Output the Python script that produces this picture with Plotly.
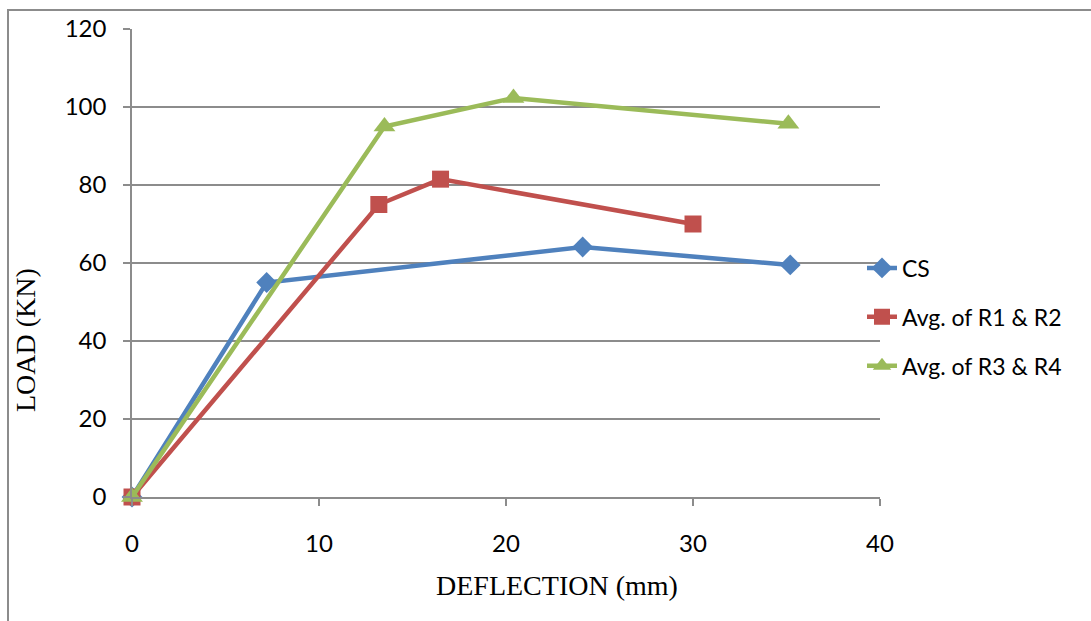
import plotly.graph_objects as go

# Load-deflection results
cs_deflection = [0, 7.2, 24.1, 35.2]
cs_load = [0, 55.0, 64.1, 59.5]

r12_deflection = [0, 13.2, 16.5, 30.0]
r12_load = [0, 75.0, 81.5, 70.0]

r34_deflection = [0, 13.5, 20.4, 35.1]
r34_load = [0, 95.0, 102.3, 95.7]

x_ticks = [0, 10, 20, 30, 40]
y_ticks = [0, 20, 40, 60, 80, 100, 120]

BLUE = "#4F81BD"
RED = "#C0504D"
GREEN = "#9BBB59"
GRID = "#8C8C8C"

fig = go.Figure()
fig.add_trace(go.Scatter(
    x=cs_deflection, y=cs_load, name="CS", mode="lines+markers",
    line=dict(color=BLUE, width=4.5),
    marker=dict(symbol="diamond", size=16, color=BLUE),
    legendgroup="a", cliponaxis=False))
fig.add_trace(go.Scatter(
    x=r12_deflection, y=r12_load, name="Avg. of R1 & R2", mode="lines+markers",
    line=dict(color=RED, width=4.5),
    marker=dict(symbol="square", size=17, color=RED),
    legendgroup="b", cliponaxis=False))
fig.add_trace(go.Scatter(
    x=r34_deflection, y=r34_load, name="Avg. of R3 & R4", mode="lines+markers",
    line=dict(color=GREEN, width=4.5),
    marker=dict(symbol="triangle-up", size=19, color=GREEN),
    legendgroup="c", cliponaxis=False))

fig.update_layout(
    width=1091, height=621,
    margin=dict(l=132, r=211, t=29, b=124),
    paper_bgcolor="white", plot_bgcolor="white",
    font=dict(family="Lato", size=24, color="black"),
    showlegend=True,
    legend=dict(x=(862 - 132) / 748, y=(497 - 317) / 468,
                xanchor="left", yanchor="middle",
                tracegroupgap=16, font=dict(family="Lato", size=23),
                bgcolor="rgba(0,0,0,0)"),
    xaxis=dict(range=[0, 40], tickvals=x_ticks, showgrid=False,
               showline=True, linecolor=GRID, linewidth=1.5,
               ticks="outside", ticklen=7, tickcolor=GRID, tickwidth=1.5,
               ticklabelstandoff=17, zeroline=False, fixedrange=True),
    yaxis=dict(range=[0, 120], tickvals=y_ticks, showgrid=True,
               gridcolor=GRID, gridwidth=1.5,
               showline=True, linecolor=GRID, linewidth=1.5,
               ticks="outside", ticklen=7, tickcolor=GRID, tickwidth=1.5,
               ticklabelstandoff=12, zeroline=False, fixedrange=True),
    annotations=[
        dict(text="DEFLECTION (mm)", xref="paper", yref="paper",
             x=(557 - 132) / 748, y=(497 - 585) / 468,
             xanchor="center", yanchor="middle", showarrow=False,
             font=dict(family="Liberation Serif", size=28)),
        dict(text="LOAD (KN)", xref="paper", yref="paper",
             x=(25 - 132) / 748, y=(497 - 340) / 468, textangle=-90,
             xanchor="center", yanchor="middle", showarrow=False,
             font=dict(family="Liberation Serif", size=28)),
    ],
    shapes=[
        dict(type="rect", xref="paper", yref="paper",
             x0=(8 - 132) / 748, x1=1.5,
             y0=-0.4, y1=(497 - 10) / 468,
             line=dict(color="#8C8C8C", width=2), layer="below"),
    ],
)

fig.write_html("out.html")
